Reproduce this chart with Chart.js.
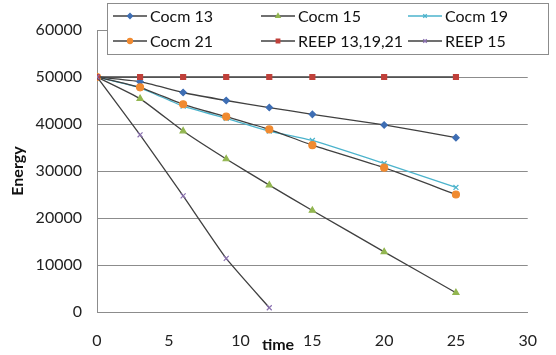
<!DOCTYPE html>
<html><head><meta charset="utf-8">
<script src="https://cdn.jsdelivr.net/npm/chart.js@4"></script>
<style>html,body{margin:0;padding:0;background:#fff}#w{width:556px;height:355px}</style>
</head><body><div id="w"><canvas id="c" width="556" height="355"></canvas></div>
<script>
const seriesNames = ["Cocm 13","Cocm 15","Cocm 19","Cocm 21","REEP 13,19,21","REEP 15"];
const timeMain = [0,3,6,9,12,15,20,25];
const timeReep15 = [0,3,6,9,12];
const cocm13 = [50000,49000,46700,45000,43500,42050,39800,37100];
const cocm15 = [50000,45400,38500,32550,27000,21600,12800,4100];
const cocm19 = [50000,47700,43800,41200,38500,36500,31600,26500];
const cocm21 = [50000,47800,44200,41550,38850,35500,30700,25000];
const reep131921 = [50000,50000,50000,50000,50000,50000,50000,50000];
const reep15 = [50000,37700,24700,11400,900];
const xTicks = [0,5,10,15,20,25,30];
const yTicks = [0,10000,20000,30000,40000,50000,60000];

const FONT = "Lato, 'Open Sans', sans-serif";
const lineDark = "#404040";
const toPts = (xs, ys) => xs.map((x,i)=>({x:x,y:ys[i]}));
const styles = [
  {line:lineDark, fill:"#3e6eb4", ps:"rectRot", r:3.2},
  {line:lineDark, fill:"#92b650", ps:"triangle", r:3.5},
  {line:"#4bb3cc", fill:"#4bb3cc", ps:"crossRot", r:3.5},
  {line:lineDark, fill:"#f08a30", ps:"circle", r:3.5},
  {line:lineDark, fill:"#c0403a", ps:"rect", r:3.5},
  {line:lineDark, fill:"#8a70b0", ps:"crossRot", r:3.5}
];
const dataSets = [
  toPts(timeMain,cocm13), toPts(timeMain,cocm15), toPts(timeMain,cocm19),
  toPts(timeMain,cocm21), toPts(timeMain,reep131921), toPts(timeReep15,reep15)
];
const datasets = seriesNames.map((n,i)=>({
  label:n, data:dataSets[i], borderColor:styles[i].line, borderWidth:1.3,
  pointStyle:styles[i].ps, pointRadius:styles[i].r, pointBackgroundColor:styles[i].fill,
  pointBorderColor:styles[i].fill, pointBorderWidth:1.2, tension:0.15, fill:false,
  order: 6-i
}));

const customDraw = {
  id:'customDraw',
  afterDraw(chart){
    const ctx = chart.ctx;
    ctx.save();
    ctx.fillStyle = "#111";
    ctx.font = "bold 16px " + FONT;
    ctx.textAlign = "center"; ctx.textBaseline = "middle";
    ctx.fillText("time", 278, 345);
    ctx.translate(18, 171); ctx.rotate(-Math.PI/2);
    ctx.fillText("Energy", 0, 0);
    ctx.restore();
    ctx.save();
    ctx.fillStyle = "#fff";
    ctx.fillRect(107.5, 3.5, 441, 51);
    ctx.strokeStyle = "#8c8c8c"; ctx.lineWidth = 1;
    ctx.strokeRect(107.5, 3.5, 441, 51);
    const cols = [113, 261, 408];
    const rows = [16, 41];
    ctx.font = "16px " + FONT;
    ctx.textAlign = "left"; ctx.textBaseline = "middle";
    seriesNames.forEach((n,i)=>{
      const cx = cols[i%3], cy = rows[Math.floor(i/3)];
      const st = styles[i];
      ctx.strokeStyle = st.line; ctx.lineWidth = 1.3;
      ctx.beginPath(); ctx.moveTo(cx, cy); ctx.lineTo(cx+34, cy); ctx.stroke();
      ctx.fillStyle = st.fill; ctx.strokeStyle = st.fill;
      Chart.helpers.drawPoint(ctx, {pointStyle:st.ps, radius:2.5, borderWidth:1}, cx+17, cy);
      ctx.fillStyle = "#111";
      ctx.fillText(n, cx+37, cy+1);
    });
    ctx.restore();
  }
};

new Chart(document.getElementById('c'), {
  type:'line',
  data:{datasets:datasets},
  options:{
    responsive:false, animation:false, devicePixelRatio:1,
    layout:{padding:{top:30,right:26,left:0,bottom:0}},
    plugins:{legend:{display:false}, tooltip:{enabled:false}, title:{display:false}},
    scales:{
      x:{type:'linear', min:0, max:30,
        afterFit(s){ s.height = 43; },
        afterBuildTicks(s){ s.ticks = xTicks.map(v=>({value:v})); },
        grid:{display:false, drawTicks:false},
        border:{display:true, color:"#8c8c8c", width:1},
        ticks:{color:"#222", font:{family:FONT, size:16}, padding:19, maxRotation:0,
          callback:v=>String(v)}
      },
      y:{min:0, max:60000,
        afterFit(s){ s.width = 97; },
        afterBuildTicks(s){ s.ticks = yTicks.map(v=>({value:v})); },
        grid:{color:"#8c8c8c", lineWidth:1, drawTicks:false},
        border:{display:true, color:"#8c8c8c", width:1},
        ticks:{color:"#222", font:{family:FONT, size:16}, padding:15,
          callback:v=>String(v)}
      }
    }
  },
  plugins:[customDraw]
});
</script></body></html>
